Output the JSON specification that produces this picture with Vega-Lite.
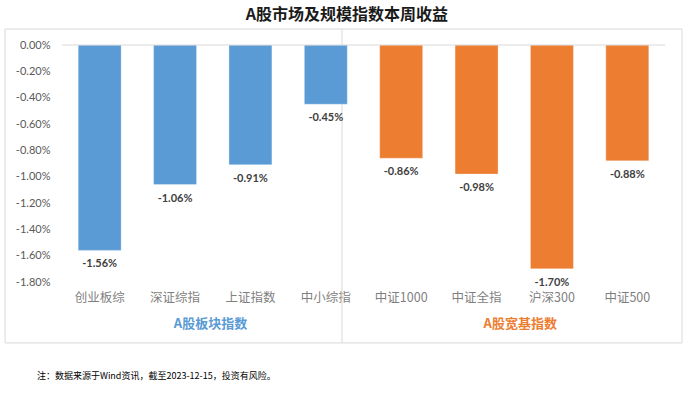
{
  "$schema": "https://vega.github.io/schema/vega-lite/v6.json",
  "width": 603,
  "height": 237,
  "autosize": "none",
  "padding": {"left": 62, "top": 45, "right": 29, "bottom": 112},
  "background": "white",
  "config": {
    "view": {"stroke": null},
    "locale": {"number": {"decimal": ".", "thousands": ",", "grouping": [3], "currency": ["$", ""], "minus": "-"}}
  },
  "datasets": {
    "bars": [
      {"name": "创业板综", "value": -0.0156, "group": "板块"},
      {"name": "深证综指", "value": -0.0106, "group": "板块"},
      {"name": "上证指数", "value": -0.0091, "group": "板块"},
      {"name": "中小综指", "value": -0.0045, "group": "板块"},
      {"name": "中证1000", "value": -0.0086, "group": "宽基"},
      {"name": "中证全指", "value": -0.0098, "group": "宽基"},
      {"name": "沪深300", "value": -0.0170, "group": "宽基"},
      {"name": "中证500", "value": -0.0088, "group": "宽基"}
    ],
    "frame": [{"x1": -0.756, "x2": 8.226, "y1": 0.001215, "y2": -0.02263}],
    "separator": [{"pos": 3.715, "y1": 0.001215, "y2": -0.02263}],
    "zero": [{"v": 0}],
    "groups": [
      {"label": "A股板块指数", "pos": 1.97, "y": -0.02119, "group": "板块"},
      {"label": "A股宽基指数", "pos": 6.08, "y": -0.02119, "group": "宽基"}
    ],
    "title": [{"label": "A股市场及规模指数本周收益", "pos": 3.78, "y": 0.002278}],
    "note": [{"label": "注：数据来源于Wind资讯，截至2023-12-15，投资有风险。", "pos": -0.332, "y": -0.02514}]
  },
  "resolve": {"scale": {"x": "independent"}, "axis": {"x": "independent"}},
  "layer": [
    {
      "data": {"name": "frame"},
      "mark": {"type": "rect", "fill": null, "stroke": "#d9d9d9", "strokeWidth": 1},
      "encoding": {
        "x": {"field": "x1", "type": "quantitative", "scale": {"domain": [0, 8], "nice": false, "zero": false}, "axis": null},
        "x2": {"field": "x2"},
        "y": {
          "field": "y1", "type": "quantitative",
          "scale": {"domain": [-0.018, 0], "nice": false, "zero": false},
          "axis": {"title": null, "format": ".2%", "values": [0, -0.002, -0.004, -0.006, -0.008, -0.010, -0.012, -0.014, -0.016, -0.018], "tickCount": 10, "grid": false, "domain": false, "ticks": false, "labelOverlap": false, "labelFlush": false, "labelBound": false, "labelPadding": 12, "labelFont": "Lato", "labelFontSize": 11, "labelColor": "#595959"}
        },
        "y2": {"field": "y2"}
      }
    },
    {
      "data": {"name": "separator"},
      "mark": {"type": "rule", "stroke": "#d9d9d9", "strokeWidth": 1},
      "encoding": {
        "x": {"field": "pos", "type": "quantitative", "scale": {"domain": [0, 8], "nice": false, "zero": false}, "axis": null},
        "y": {"field": "y1", "type": "quantitative", "scale": {"domain": [-0.018, 0], "nice": false, "zero": false}},
        "y2": {"field": "y2"}
      }
    },
    {
      "data": {"name": "bars"},
      "mark": {"type": "bar", "stroke": "#ffffff", "strokeOpacity": 0.4, "strokeWidth": 0.8},
      "encoding": {
        "x": {
          "field": "name", "type": "nominal",
          "sort": ["创业板综", "深证综指", "上证指数", "中小综指", "中证1000", "中证全指", "沪深300", "中证500"],
          "scale": {"paddingInner": 0.43, "paddingOuter": 0.215},
          "axis": {"orient": "bottom", "title": null, "domain": false, "ticks": false, "labelAngle": 0, "labelPadding": 9, "labelFont": "Noto Sans CJK SC", "labelFontSize": 12.5, "labelColor": "#7f7f7f"}
        },
        "y": {"field": "value", "type": "quantitative", "scale": {"domain": [-0.018, 0], "nice": false, "zero": false}},
        "color": {"field": "group", "type": "nominal", "scale": {"domain": ["板块", "宽基"], "range": ["#5b9bd5", "#ed7d31"]}, "legend": null}
      }
    },
    {
      "data": {"name": "zero"},
      "mark": {"type": "rule", "stroke": "#d9d9d9", "strokeWidth": 1},
      "encoding": {"y": {"field": "v", "type": "quantitative", "scale": {"domain": [-0.018, 0], "nice": false, "zero": false}}}
    },
    {
      "data": {"name": "bars"},
      "mark": {"type": "text", "baseline": "top", "dy": 8, "font": "Lato", "fontSize": 11, "fontWeight": "bold", "fill": "#404040"},
      "encoding": {
        "x": {"field": "name", "type": "nominal", "sort": ["创业板综", "深证综指", "上证指数", "中小综指", "中证1000", "中证全指", "沪深300", "中证500"], "scale": {"paddingInner": 0.43, "paddingOuter": 0.215}, "axis": null},
        "y": {"field": "value", "type": "quantitative", "scale": {"domain": [-0.018, 0], "nice": false, "zero": false}},
        "text": {"field": "value", "type": "quantitative", "format": ".2%"}
      }
    },
    {
      "data": {"name": "groups"},
      "mark": {"type": "text", "baseline": "middle", "align": "center", "font": "Noto Sans CJK SC", "fontSize": 13, "fontWeight": "bold"},
      "encoding": {
        "x": {"field": "pos", "type": "quantitative", "scale": {"domain": [0, 8], "nice": false, "zero": false}, "axis": null},
        "y": {"field": "y", "type": "quantitative", "scale": {"domain": [-0.018, 0], "nice": false, "zero": false}},
        "text": {"field": "label"},
        "color": {"field": "group", "type": "nominal", "scale": {"domain": ["板块", "宽基"], "range": ["#5b9bd5", "#ed7d31"]}, "legend": null}
      }
    },
    {
      "data": {"name": "title"},
      "mark": {"type": "text", "baseline": "middle", "align": "center", "font": "Noto Sans CJK SC", "fontSize": 16, "fontWeight": "bold", "fill": "#1a1a1a"},
      "encoding": {
        "x": {"field": "pos", "type": "quantitative", "scale": {"domain": [0, 8], "nice": false, "zero": false}, "axis": null},
        "y": {"field": "y", "type": "quantitative", "scale": {"domain": [-0.018, 0], "nice": false, "zero": false}},
        "text": {"field": "label"}
      }
    },
    {
      "data": {"name": "note"},
      "mark": {"type": "text", "baseline": "middle", "align": "left", "font": "Noto Sans CJK SC", "fontSize": 9, "fill": "#000000"},
      "encoding": {
        "x": {"field": "pos", "type": "quantitative", "scale": {"domain": [0, 8], "nice": false, "zero": false}, "axis": null},
        "y": {"field": "y", "type": "quantitative", "scale": {"domain": [-0.018, 0], "nice": false, "zero": false}},
        "text": {"field": "label"}
      }
    }
  ]
}
